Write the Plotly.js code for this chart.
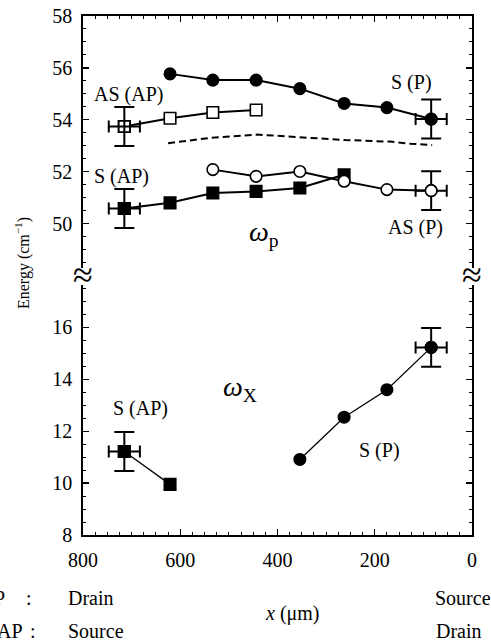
<!DOCTYPE html>
<html>
<head>
<meta charset="utf-8">
<script src="https://cdn.plot.ly/plotly-3.0.1.min.js"></script>
<style>
  html, body { margin: 0; padding: 0; background: #fff; }
  #chart { width: 491px; height: 642px; }
</style>
</head>
<body>
<div id="chart"></div>
<script>
// Phonon energies along the channel, x in micrometres (axis runs 800 -> 0)

// omega_p branch (upper panel)
const sP_x   = [621, 533, 444, 354, 263, 175, 84];
const sP_y   = [55.77, 55.53, 55.53, 55.20, 54.63, 54.47, 54.03];

const asAP_x = [715, 621, 533, 444];
const asAP_y = [53.74, 54.06, 54.28, 54.38];

const sAP_x  = [715, 621, 533, 444, 354, 263];
const sAP_y  = [50.58, 50.80, 51.18, 51.24, 51.37, 51.88];

const asP_x  = [533, 444, 354, 263, 175, 84];
const asP_y  = [52.08, 51.82, 52.01, 51.63, 51.31, 51.27];

const mean_x = [625, 539, 442, 354, 261, 169, 127, 82];
const mean_y = [53.10, 53.30, 53.43, 53.32, 53.22, 53.16, 53.08, 53.03];

// omega_X branch (lower panel)
const xsAP_x = [715, 621];
const xsAP_y = [11.22, 9.95];

const xsP_x  = [354, 263, 175, 84];
const xsP_y  = [10.91, 12.54, 13.60, 15.23];

// uncertainties shown on the end points
const errEnergy = 0.75;
const errPos    = 32;

const yTicksTop    = [50, 52, 54, 56, 58];
const yTicksBottom = [8, 10, 12, 14, 16];

// ---- page geometry helpers ----
const W = 491, H = 642, ML = 83, MR = 19, MT = 16, MB = 107;
const PW = W - ML - MR, PH = H - MT - MB;
const fx = p => (p - ML) / PW;
const fy = p => (H - MB - p) / PH;

const FONT = '"Liberation Serif", "Times New Roman", serif';
const last = a => a[a.length - 1];

function line(x, y, xa, ya, symbol, fill, lw) {
  return {
    x: x, y: y, xaxis: xa, yaxis: ya, type: 'scatter', mode: 'lines+markers',
    line: { color: 'black', width: lw },
    marker: { symbol: symbol, size: 11.5, color: fill, line: { color: 'black', width: 1.6 } },
    hoverinfo: 'skip'
  };
}
function endErr(x, y, xa, ya, symbol, fill) {
  return {
    x: [x], y: [y], xaxis: xa, yaxis: ya, type: 'scatter', mode: 'markers',
    marker: { symbol: symbol, size: 11.5, color: fill, line: { color: 'black', width: 1.6 } },
    error_y: { type: 'data', array: [errEnergy], color: 'black', thickness: 2, width: 10 },
    error_x: { type: 'data', array: [errPos], color: 'black', thickness: 2, width: 6 },
    hoverinfo: 'skip'
  };
}

const traces = [
  // upper panel
  {
    x: mean_x, y: mean_y, xaxis: 'x2', yaxis: 'y2', type: 'scatter', mode: 'lines',
    line: { color: 'black', width: 2, dash: '7px,4px' }, hoverinfo: 'skip'
  },
  line(sP_x, sP_y, 'x2', 'y2', 'circle', 'black', 2),
  endErr(last(sP_x), last(sP_y), 'x2', 'y2', 'circle', 'black'),
  line(asAP_x, asAP_y, 'x2', 'y2', 'square', 'white', 2),
  endErr(asAP_x[0], asAP_y[0], 'x2', 'y2', 'square', 'rgba(0,0,0,0)'),
  endErr(last(asP_x), last(asP_y), 'x2', 'y2', 'circle', 'white'),
  line(sAP_x, sAP_y, 'x2', 'y2', 'square', 'black', 2),
  endErr(sAP_x[0], sAP_y[0], 'x2', 'y2', 'square', 'black'),
  line(asP_x, asP_y, 'x2', 'y2', 'circle', 'white', 2),
  // lower panel
  line(xsAP_x, xsAP_y, 'x', 'y', 'square', 'black', 1.3),
  endErr(xsAP_x[0], xsAP_y[0], 'x', 'y', 'square', 'black'),
  line(xsP_x, xsP_y, 'x', 'y', 'circle', 'black', 1.3),
  endErr(last(xsP_x), last(xsP_y), 'x', 'y', 'circle', 'black')
];

const minorTicks = d => ({ tick0: 0, dtick: d, ticks: 'inside', ticklen: 3, tickwidth: 1, tickcolor: 'black' });

const axisCommon = {
  showline: true, linecolor: 'black', linewidth: 1.8,
  ticks: 'inside', ticklen: 6, tickwidth: 1.3, tickcolor: 'black',
  showgrid: false, zeroline: false,
  tickfont: { family: FONT, size: 20, color: 'black' }
};

function txt(text, px, py, size, extra) {
  return Object.assign({
    text: text, xref: 'paper', yref: 'paper', x: fx(px), y: fy(py),
    xanchor: 'center', yanchor: 'middle', showarrow: false,
    font: { family: FONT, size: size, color: 'black' }
  }, extra || {});
}

const layout = {
  width: W, height: H,
  margin: { l: ML, r: MR, t: MT, b: MB, pad: 0 },
  paper_bgcolor: 'white', plot_bgcolor: 'white',
  showlegend: false,
  font: { family: FONT, color: 'black', size: 20 },
  xaxis: Object.assign({}, axisCommon, {
    range: [800, 0], anchor: 'y', domain: [0, 1],
    tick0: 0, dtick: 200, ticklabelstandoff: 6,
    minor: minorTicks(25)
  }),
  xaxis2: Object.assign({}, axisCommon, {
    range: [800, 0], anchor: 'y2', side: 'top', domain: [0, 1],
    tick0: 0, dtick: 200, showticklabels: false,
    minor: minorTicks(25)
  }),
  yaxis: Object.assign({}, axisCommon, {
    range: [8, 18], domain: [0, 0.5], anchor: 'x', mirror: 'allticks',
    tickmode: 'array', tickvals: yTicksBottom, ticklabelstandoff: 5,
    minor: minorTicks(0.5)
  }),
  yaxis2: Object.assign({}, axisCommon, {
    range: [48, 58], domain: [0.5, 1], anchor: 'x2', mirror: 'allticks',
    tickmode: 'array', tickvals: yTicksTop, ticklabelstandoff: 5,
    minor: minorTicks(0.5)
  }),
  shapes: [
    // gaps in the energy axis at the break
    { type: 'rect', xref: 'paper', yref: 'paper', layer: 'above',
      x0: fx(ML - 6), x1: fx(ML + 6), y0: fy(285), y1: fy(268),
      fillcolor: 'white', line: { width: 0 } },
    { type: 'rect', xref: 'paper', yref: 'paper', layer: 'above',
      x0: fx(W - MR - 6), x1: fx(W - MR + 6), y0: fy(285), y1: fy(268),
      fillcolor: 'white', line: { width: 0 } }
  ],
  annotations: [
    txt('≈', ML, 275, 36),
    txt('≈', W - MR, 275, 36),
    txt('Energy (cm<sup>−1</sup>)', 22, 263, 16, { textangle: -90 }),
    txt('AS (AP)', 128, 94, 20),
    txt('S (AP)', 121, 176, 20),
    txt('S (P)', 411, 83, 20),
    txt('AS (P)', 415, 227, 20),
    txt('<i>ω</i><sub>p</sub>', 264, 233, 28),
    txt('<i>ω</i><sub>X</sub>', 240, 388, 28),
    txt('S (AP)', 140, 408, 20),
    txt('S (P)', 379, 450, 20),
    txt('<i>x</i> (μm)', 292, 613, 20),
    txt('P', 7, 598, 20, { xanchor: 'right' }),
    txt(':', 29, 598, 20),
    txt('Drain', 66, 598, 20, { xanchor: 'left' }),
    txt('Source', 433, 598, 20, { xanchor: 'left' }),
    txt('AP', 25, 631, 20, { xanchor: 'right' }),
    txt(':', 33, 631, 20),
    txt('Source', 66, 631, 20, { xanchor: 'left' }),
    txt('Drain', 434, 631, 20, { xanchor: 'left' })
  ]
};

Plotly.newPlot('chart', traces, layout, { staticPlot: true, displayModeBar: false });
</script>
</body>
</html>
